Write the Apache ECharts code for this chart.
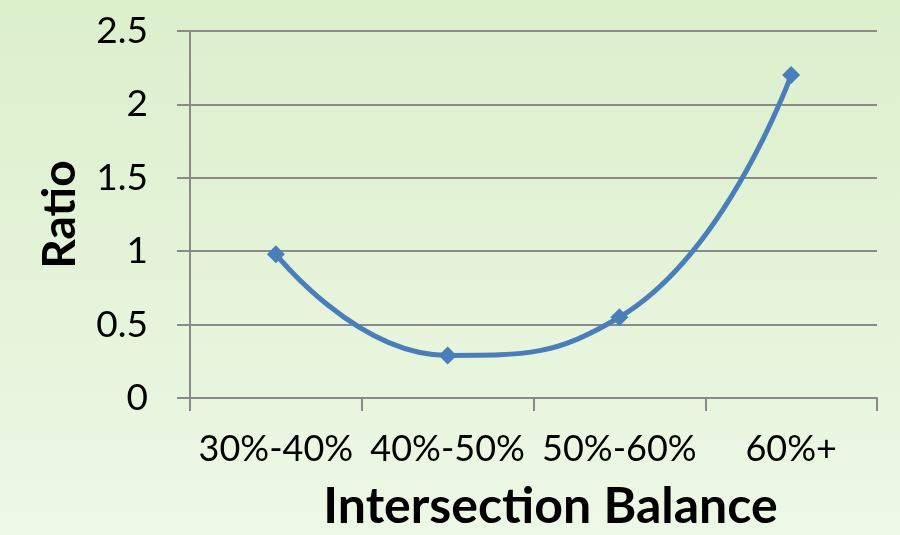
<!DOCTYPE html>
<html>
<head>
<meta charset="utf-8">
<script src="https://cdn.jsdelivr.net/npm/echarts@6/dist/echarts.min.js"></script>
<style>
  html, body { margin: 0; padding: 0; }
  #main { width: 900px; height: 535px; }
</style>
</head>
<body>
<div id="main"></div>
<script>
// data
var categories = ['30%-40%', '40%-50%', '50%-60%', '60%+'];
var ratioValues = [0.98, 0.29, 0.55, 2.2];
var yTicks = [0, 0.5, 1, 1.5, 2, 2.5];

var font = 'Lato, "Open Sans", sans-serif';
var chart = echarts.init(document.getElementById('main'));
chart.setOption({
    backgroundColor: {
        type: 'linear', x: 0, y: 0, x2: 0, y2: 1,
        colorStops: [
            { offset: 0, color: '#dcefcb' },
            { offset: 1, color: '#edf8e6' }
        ]
    },
    animation: false,
    grid: { left: 190, right: 23, top: 31, bottom: 137, outerBoundsMode: 'none' },
    xAxis: {
        type: 'category',
        data: categories,
        boundaryGap: true,
        axisLine: { lineStyle: { color: '#8a8a8a', width: 2 } },
        axisTick: { show: true, interval: 0, length: 13, lineStyle: { color: '#8a8a8a', width: 2 } },
        axisLabel: { interval: 0, hideOverlap: false, color: '#000', fontSize: 36, fontFamily: font, margin: 33 },
        name: 'Intersection Balance',
        nameLocation: 'middle',
        nameGap: 84,
        nameTextStyle: { color: '#000', fontSize: 50, fontWeight: 'bold', fontFamily: font, padding: [0, 0, 0, 34] }
    },
    yAxis: {
        type: 'value',
        min: yTicks[0],
        max: yTicks[yTicks.length - 1],
        interval: 0.5,
        axisLine: { show: true, lineStyle: { color: '#8a8a8a', width: 2 } },
        axisTick: { show: true, length: 13, lineStyle: { color: '#8a8a8a', width: 2 } },
        splitLine: { show: true, lineStyle: { color: '#8a8a8a', width: 2 } },
        axisLabel: { color: '#000', fontSize: 37, fontFamily: font, margin: 42 },
        name: 'Ratio',
        nameLocation: 'middle',
        nameRotate: 90,
        nameGap: 107,
        nameTextStyle: { color: '#000', fontSize: 46, fontWeight: 'bold', fontFamily: font }
    },
    series: [{
        name: 'Ratio',
        type: 'line',
        data: ratioValues,
        smooth: 0.5,
        symbol: 'diamond',
        symbolSize: 18,
        itemStyle: { color: '#4a7ebb' },
        lineStyle: { color: '#4a7ebb', width: 5 }
    }]
});
</script>
</body>
</html>
